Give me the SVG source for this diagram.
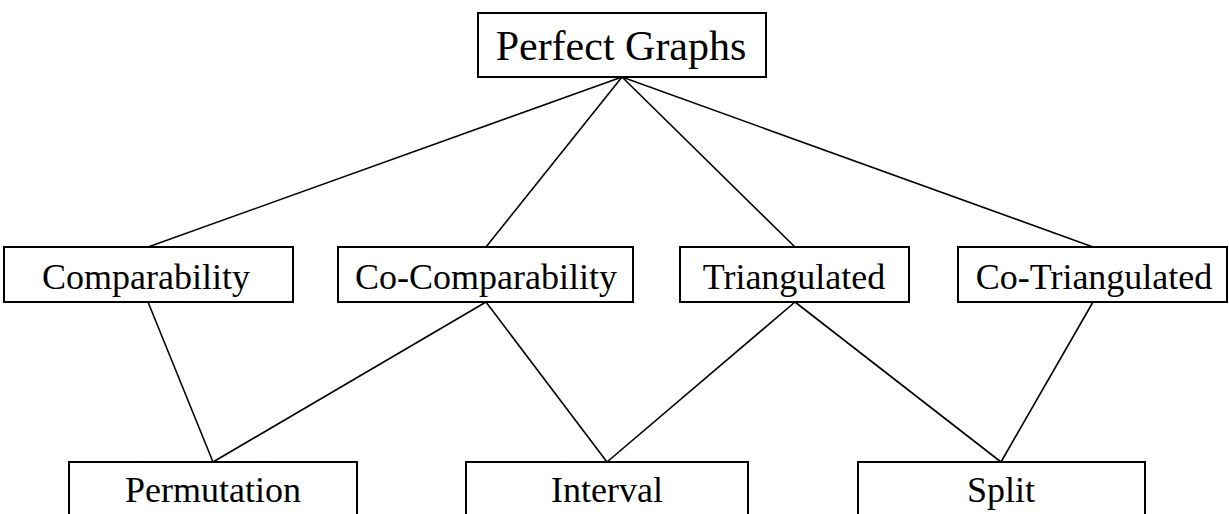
<svg xmlns="http://www.w3.org/2000/svg" width="1229" height="514" viewBox="0 0 1229 514">
  <style>
    .box { fill: #fff; stroke: #000; stroke-width: 2; }
    .edge { stroke: #000; stroke-width: 1.6; fill: none; }
    .lbl { font-family: "Liberation Serif", "Times New Roman", serif; fill: #000; text-anchor: middle; }
    .big { font-size: 42px; }
    .mid { font-size: 36px; }
    .low { font-size: 36px; }
  </style>
  <rect width="1229" height="514" fill="#fff"/>

  <!-- connectors between classes -->
  <g id="edges">
    <line class="edge" x1="622" y1="77" x2="148" y2="247"/>
    <line class="edge" x1="622" y1="77" x2="486" y2="247"/>
    <line class="edge" x1="622" y1="77" x2="795" y2="247"/>
    <line class="edge" x1="622" y1="77" x2="1093" y2="247"/>
    <line class="edge" x1="148" y1="302" x2="213" y2="462"/>
    <line class="edge" x1="486" y1="302" x2="213" y2="462"/>
    <line class="edge" x1="486" y1="302" x2="607" y2="462"/>
    <line class="edge" x1="795" y1="302" x2="607" y2="462"/>
    <line class="edge" x1="795" y1="302" x2="1001" y2="462"/>
    <line class="edge" x1="1093" y1="302" x2="1001" y2="462"/>
  </g>

  <g id="perfect">
    <rect class="box" x="478" y="13" width="288" height="64"/>
    <text class="lbl big" x="621" y="60">Perfect Graphs</text>
  </g>

  <g id="comparability">
    <rect class="box" x="4" y="247" width="289" height="55"/>
    <text class="lbl mid" x="146" y="289">Comparability</text>
  </g>
  <g id="co-comparability">
    <rect class="box" x="338" y="247" width="295" height="55"/>
    <text class="lbl mid" x="486" y="289">Co-Comparability</text>
  </g>
  <g id="triangulated">
    <rect class="box" x="680" y="247" width="229" height="55"/>
    <text class="lbl mid" x="794" y="289">Triangulated</text>
  </g>
  <g id="co-triangulated">
    <rect class="box" x="958" y="247" width="269" height="55"/>
    <text class="lbl mid" x="1094" y="289">Co-Triangulated</text>
  </g>

  <g id="permutation">
    <rect class="box" x="69" y="462" width="288" height="60"/>
    <text class="lbl low" x="213" y="502">Permutation</text>
  </g>
  <g id="interval">
    <rect class="box" x="466" y="462" width="282" height="60"/>
    <text class="lbl low" x="607" y="502">Interval</text>
  </g>
  <g id="split">
    <rect class="box" x="858" y="462" width="287" height="60"/>
    <text class="lbl low" x="1001" y="502">Split</text>
  </g>
</svg>
